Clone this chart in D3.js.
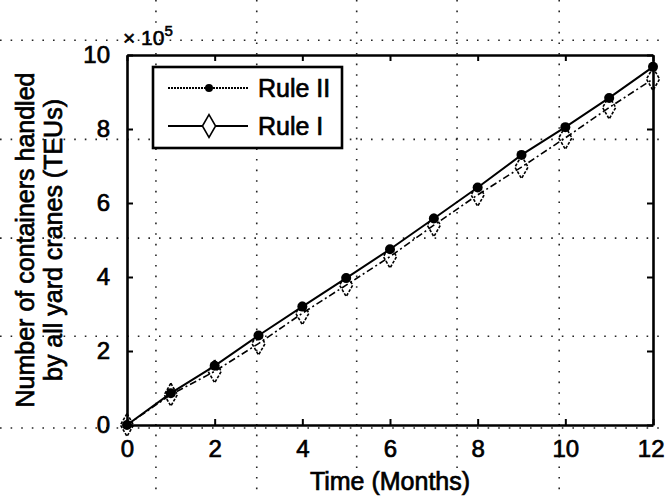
<!DOCTYPE html>
<html>
<head>
<meta charset="utf-8">
<script src="https://cdn.jsdelivr.net/npm/d3@7"></script>
<style>
  html, body { margin: 0; padding: 0; background: #fff; }
  svg text { font-family: "Liberation Sans", Arial, sans-serif; fill: #000; }
</style>
</head>
<body>
<svg id="chart" width="665" height="497"></svg>
<script>
// ---- data ----
const months = [0, 1, 2, 3, 4, 5, 6, 7, 8, 9, 10, 11, 12];
const ruleII = [0, 0.86, 1.6, 2.42, 3.2, 3.97, 4.75, 5.58, 6.42, 7.3, 8.05, 8.84, 9.68];
const ruleI  = [0, 0.82, 1.45, 2.2, 3.02, 3.78, 4.55, 5.4, 6.22, 6.97, 7.76, 8.58, 9.35];
const xTicks = [0, 2, 4, 6, 8, 10, 12];
const yTicks = [0, 2, 4, 6, 8, 10];
const seriesNames = ["Rule II", "Rule I"];
const xLabel = "Time (Months)";
const yLabelLines = ["Number of containers handled", "by all yard cranes (TEUs)"];
// scan artefact dotted grid (data-space positions)
const scanGridX = [0.66, 2.96, 5.24, 7.53, 9.86];
const scanGridY = [10.4, 7.72, 5.05, 2.4, -0.08];

// ---- layout ----
const svg = d3.select("#chart");
const L = 127, R = 653, T = 55, B = 425;
const x = d3.scaleLinear().domain([0, 12]).range([L, R]);
const y = d3.scaleLinear().domain([0, 10]).range([B, T]);
const FS = 25, TFS = 24;

// scan dotted grid
const deco = svg.append("g").attr("stroke", "#000").attr("stroke-width", 1.6)
  .attr("stroke-dasharray", "1.6,9").attr("opacity", 0.85);
deco.selectAll("line.vx").data(scanGridX).join("line")
  .attr("x1", d => x(d)).attr("x2", d => x(d)).attr("y1", 0).attr("y2", 497);
deco.selectAll("line.hy").data(scanGridY).join("line")
  .attr("y1", d => y(d)).attr("y2", d => y(d)).attr("x1", 0).attr("x2", 665);

// axes (box)
const axB = svg.append("g").attr("transform", `translate(0,${B})`)
  .call(d3.axisBottom(x).tickValues(xTicks).tickSizeInner(-6).tickSizeOuter(0).tickPadding(18));
const axT = svg.append("g").attr("transform", `translate(0,${T})`)
  .call(d3.axisTop(x).tickValues(xTicks).tickSizeInner(-6).tickSizeOuter(0).tickFormat(""));
const axL = svg.append("g").attr("transform", `translate(${L},0)`)
  .call(d3.axisLeft(y).tickValues(yTicks).tickSizeInner(-6).tickSizeOuter(0).tickPadding(17));
const axR = svg.append("g").attr("transform", `translate(${R},0)`)
  .call(d3.axisRight(y).tickValues(yTicks).tickSizeInner(-6).tickSizeOuter(0).tickFormat(""));
[axB, axT, axL, axR].forEach(a => {
  a.select(".domain").attr("stroke", "#000").attr("stroke-width", 2.6);
  a.selectAll(".tick line").attr("stroke", "#000").attr("stroke-width", 2);
  a.selectAll("text").attr("font-size", TFS).attr("stroke", "#000").attr("stroke-width", 0.7)
    .style("font-family", "'Liberation Sans', Arial, sans-serif");
});
axB.selectAll("text").attr("dy", "0.6em");
// keep the last x tick label inside the picture
axB.selectAll(".tick text").filter(d => d === 12).attr("text-anchor", "end").attr("dx", 11);

// exponent label
const ex = svg.append("text").attr("x", x(0) - 4).attr("y", T - 10).attr("font-size", 21)
  .attr("stroke", "#000").attr("stroke-width", 0.6);
ex.append("tspan").text("× 10");
ex.append("tspan").attr("dy", -9).attr("font-size", 15).text("5");

// series
const line = d3.line().x((d, i) => x(months[i])).y(d => y(d));
svg.append("path").datum(ruleI).attr("d", line).attr("fill", "none")
  .attr("stroke", "#000").attr("stroke-width", 1.6).attr("stroke-dasharray", "7,3,2,3");
svg.append("path").datum(ruleII).attr("d", line).attr("fill", "none")
  .attr("stroke", "#000").attr("stroke-width", 2);

const diamond = d3.symbol().type(d3.symbolDiamond).size(150);
svg.append("g").selectAll("path").data(ruleI).join("path")
  .attr("d", diamond)
  .attr("transform", (d, i) => `translate(${x(months[i])},${y(d)})`)
  .attr("fill", "none").attr("stroke", "#000").attr("stroke-width", 1.6)
  .attr("stroke-dasharray", "3,1.5");
svg.append("g").selectAll("circle").data(ruleII).join("circle")
  .attr("cx", (d, i) => x(months[i])).attr("cy", d => y(d)).attr("r", 5).attr("fill", "#000");

// legend
const lg = svg.append("g");
lg.append("rect").attr("x", 153).attr("y", 67).attr("width", 189).attr("height", 81)
  .attr("fill", "#fff").attr("stroke", "#000").attr("stroke-width", 2.6);
const rows = [88, 126];
seriesNames.forEach((name, k) => {
  const yy = rows[k];
  lg.append("line").attr("x1", 168).attr("x2", 248).attr("y1", yy).attr("y2", yy)
    .attr("stroke", "#000").attr("stroke-width", k === 0 ? 2 : 1.8)
    .attr("stroke-dasharray", k === 0 ? "2,1" : null);
  if (k === 0) {
    lg.append("circle").attr("cx", 209).attr("cy", yy).attr("r", 4).attr("fill", "#000");
  } else {
    lg.append("path").attr("d", diamond).attr("transform", `translate(209,${yy})`)
      .attr("fill", "#fff").attr("stroke", "#000").attr("stroke-width", 1.6);
  }
  lg.append("text").attr("x", 258).attr("y", yy + 9).attr("font-size", FS)
    .attr("stroke", "#000").attr("stroke-width", 0.7).text(name);
});

// axis labels
svg.append("text").attr("x", (L + R) / 2).attr("y", 490).attr("text-anchor", "middle")
  .attr("font-size", FS).attr("stroke", "#000").attr("stroke-width", 0.7).text(xLabel);
yLabelLines.forEach((t, i) => {
  svg.append("text").attr("transform", `translate(${34 + i * 28},${(T + B) / 2}) rotate(-90)`)
    .attr("text-anchor", "middle").attr("font-size", FS)
    .attr("stroke", "#000").attr("stroke-width", 0.7).text(t);
});
</script>
</body>
</html>
